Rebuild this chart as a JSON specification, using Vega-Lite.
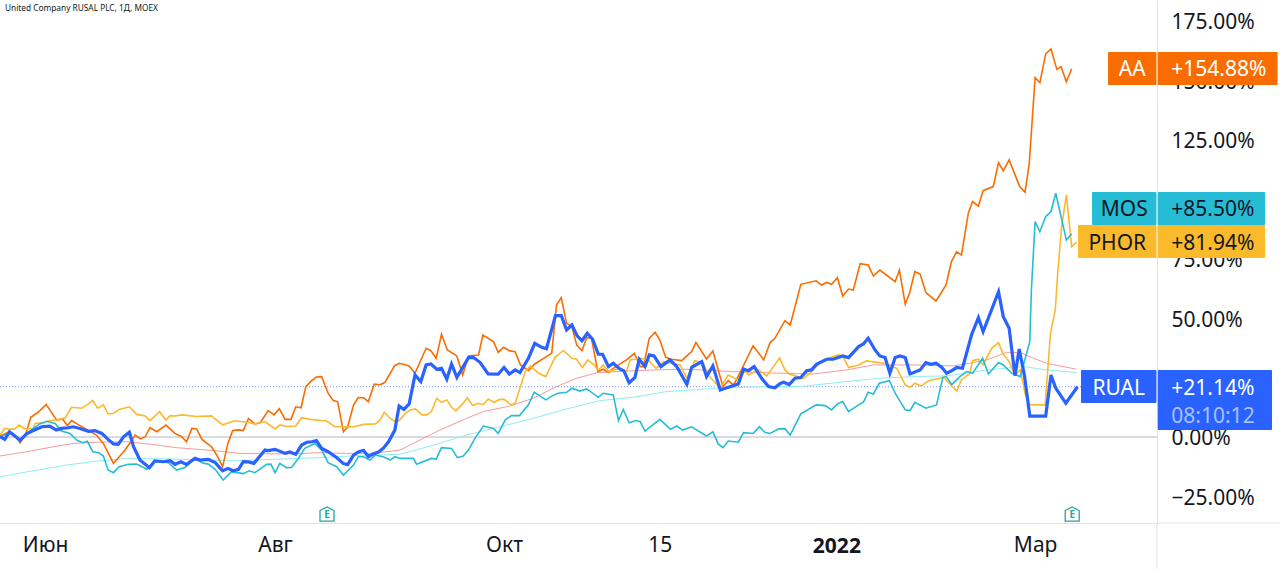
{"width":1157,"height":523,"autosize":{"type":"none"},"padding":{"left":0,"top":0,"right":123,"bottom":46},"background":"#ffffff","config":{"view":{"stroke":null}},
"data":{"values":[{"year":"2022","time":"08:10:12","name":"United Company RUSAL PLC, 1Д, MOEX","lastRual":21.14,"zero":0}]},
"transform":[{"calculate":"0","as":"start"},{"calculate":"218.3","as":"stop"},{"calculate":"241.6","as":"sideStop"},{"calculate":"-36.17","as":"bottom"},{"calculate":"218.3","as":"edge"},{"calculate":"-55.5","as":"floor"},{"calculate":"221","as":"timeX"},{"calculate":"9.4","as":"timeY"},{"calculate":"0.94","as":"titleX"},{"calculate":"180.4","as":"titleY"},{"calculate":"157.9","as":"yearX"},{"calculate":"-46.3","as":"yearY"}],
"datasets":{
"tags":[{"series":"AA","last":154.88,"tagLevel":155.0},{"series":"PHOR","last":81.94,"tagLevel":82.2},{"series":"MOS","last":85.5,"tagLevel":96.1},{"series":"RUAL","last":21.14,"tagLevel":21.2}],
"events":[{"session":61.7,"level":-32.4,"label":"E"},{"session":202.3,"level":-32.4,"label":"E"}],
"averages":[
{"series":"SMA1","session":0,"change":-8},{"series":"SMA1","session":5,"change":-6.2},{"series":"SMA1","session":10.1,"change":-4.1},{"series":"SMA1","session":13.8,"change":-2.7},{"series":"SMA1","session":18.2,"change":-2.2},{"series":"SMA1","session":23.9,"change":-2},{"series":"SMA1","session":28.3,"change":-3},{"series":"SMA1","session":33.3,"change":-4.5},{"series":"SMA1","session":40.3,"change":-5.7},{"series":"SMA1","session":45.3,"change":-6.9},{"series":"SMA1","session":50.3,"change":-7.1},{"series":"SMA1","session":55.3,"change":-7.1},{"series":"SMA1","session":60.4,"change":-6.6},{"series":"SMA1","session":65.4,"change":-6.9},{"series":"SMA1","session":70.4,"change":-6.9},{"series":"SMA1","session":75.5,"change":-5.5},{"series":"SMA1","session":79.2,"change":-1.3},{"series":"SMA1","session":83,"change":2.9},{"series":"SMA1","session":88,"change":7.8},{"series":"SMA1","session":91.2,"change":10.7},{"series":"SMA1","session":96.2,"change":13},{"series":"SMA1","session":100.6,"change":16.3},{"series":"SMA1","session":105,"change":21.2},{"series":"SMA1","session":108.8,"change":24.7},{"series":"SMA1","session":112.6,"change":27},{"series":"SMA1","session":116.4,"change":27.5},{"series":"SMA1","session":123.3,"change":28.2},{"series":"SMA1","session":129.6,"change":28.5},{"series":"SMA1","session":138.4,"change":27.5},{"series":"SMA1","session":147.2,"change":26.8},{"series":"SMA1","session":153.5,"change":26.5},{"series":"SMA1","session":159.7,"change":28.2},{"series":"SMA1","session":164.8,"change":30.3},{"series":"SMA1","session":172.3,"change":30.3},{"series":"SMA1","session":179.9,"change":29.9},{"series":"SMA1","session":183.6,"change":31.3},{"series":"SMA1","session":186.2,"change":32.4},{"series":"SMA1","session":189.9,"change":35.6},{"series":"SMA1","session":192.5,"change":35.5},{"series":"SMA1","session":195,"change":33.1},{"series":"SMA1","session":197.5,"change":31},{"series":"SMA1","session":203.1,"change":28.5},
{"series":"SMA2","session":0,"change":-16.7},{"series":"SMA2","session":6.3,"change":-14.2},{"series":"SMA2","session":12.6,"change":-11.8},{"series":"SMA2","session":18.9,"change":-10},{"series":"SMA2","session":23.9,"change":-9},{"series":"SMA2","session":31.4,"change":-9.2},{"series":"SMA2","session":44,"change":-10},{"series":"SMA2","session":60.4,"change":-8.7},{"series":"SMA2","session":69.2,"change":-7.6},{"series":"SMA2","session":75.5,"change":-7.3},{"series":"SMA2","session":81.8,"change":-3.4},{"series":"SMA2","session":88,"change":0.8},{"series":"SMA2","session":94.3,"change":4.3},{"series":"SMA2","session":100.6,"change":7.8},{"series":"SMA2","session":105.7,"change":11.1},{"series":"SMA2","session":113.2,"change":15.3},{"series":"SMA2","session":119.5,"change":16.7},{"series":"SMA2","session":125.8,"change":19.1},{"series":"SMA2","session":135.2,"change":20.5},{"series":"SMA2","session":144.7,"change":21.2},{"series":"SMA2","session":151,"change":21.2},{"series":"SMA2","session":159.7,"change":23.3},{"series":"SMA2","session":166,"change":24.7},{"series":"SMA2","session":172.3,"change":25.4},{"series":"SMA2","session":178.6,"change":25.7},{"series":"SMA2","session":186.2,"change":28.2},{"series":"SMA2","session":193.1,"change":29.6},{"series":"SMA2","session":197.5,"change":28.2},{"series":"SMA2","session":203.1,"change":27.1}
],
"thin":[
{"series":"AA","session":0,"change":0.4},{"series":"AA","session":1.8,"change":2.2},{"series":"AA","session":2.8,"change":0.8},{"series":"AA","session":3.8,"change":-2.4},{"series":"AA","session":4.9,"change":1.5},{"series":"AA","session":5.8,"change":8.3},{"series":"AA","session":7.2,"change":10.4},{"series":"AA","session":8.7,"change":13.7},{"series":"AA","session":10.7,"change":7.1},{"series":"AA","session":11.8,"change":7.6},{"series":"AA","session":12.7,"change":4.8},{"series":"AA","session":13.5,"change":6.9},{"series":"AA","session":15.1,"change":4.8},{"series":"AA","session":16.7,"change":2.7},{"series":"AA","session":18.2,"change":0.8},{"series":"AA","session":19.5,"change":-2.7},{"series":"AA","session":21.4,"change":-11.1},{"series":"AA","session":22.5,"change":-8.3},{"series":"AA","session":23.6,"change":-5.5},{"series":"AA","session":24.7,"change":-2},{"series":"AA","session":25.5,"change":0.8},{"series":"AA","session":26.5,"change":-0.8},{"series":"AA","session":27.4,"change":0.1},{"series":"AA","session":28.3,"change":3.9},{"series":"AA","session":29.6,"change":2.2},{"series":"AA","session":31.3,"change":5},{"series":"AA","session":33,"change":1.5},{"series":"AA","session":34.3,"change":0.1},{"series":"AA","session":35.2,"change":-2},{"series":"AA","session":36.2,"change":3.6},{"series":"AA","session":37.1,"change":3.4},{"series":"AA","session":38.1,"change":-1},{"series":"AA","session":39.9,"change":-4.1},{"series":"AA","session":40.9,"change":-7.6},{"series":"AA","session":42,"change":-12.5},{"series":"AA","session":43,"change":-2.7},{"series":"AA","session":43.9,"change":2.7},{"series":"AA","session":45,"change":3},{"series":"AA","session":45.9,"change":2.7},{"series":"AA","session":46.9,"change":7.8},{"series":"AA","session":48.1,"change":5.5},{"series":"AA","session":49.1,"change":6},{"series":"AA","session":50.6,"change":11.1},{"series":"AA","session":51.7,"change":9.3},{"series":"AA","session":52.7,"change":11.9},{"series":"AA","session":53.8,"change":7.4},{"series":"AA","session":54.9,"change":7.4},{"series":"AA","session":55.8,"change":12.7},{"series":"AA","session":56.8,"change":12.3},{"series":"AA","session":57.7,"change":21.2},{"series":"AA","session":58.8,"change":23.7},{"series":"AA","session":59.7,"change":25.2},{"series":"AA","session":60.7,"change":25.4},{"series":"AA","session":61.9,"change":18.4},{"series":"AA","session":62.9,"change":15.3},{"series":"AA","session":63.7,"change":14.9},{"series":"AA","session":64.8,"change":2.2},{"series":"AA","session":65.6,"change":4.3},{"series":"AA","session":66.7,"change":13.4},{"series":"AA","session":67.6,"change":16.6},{"series":"AA","session":68.6,"change":16.5},{"series":"AA","session":69.5,"change":14.9},{"series":"AA","session":70.6,"change":22.2},{"series":"AA","session":71.7,"change":22},{"series":"AA","session":72.6,"change":22.9},{"series":"AA","session":74.5,"change":30.1},{"series":"AA","session":75.4,"change":31},{"series":"AA","session":77.2,"change":29.9},{"series":"AA","session":78.3,"change":26.8},{"series":"AA","session":80.4,"change":37.3},{"series":"AA","session":81.3,"change":36.3},{"series":"AA","session":82.3,"change":33.1},{"series":"AA","session":83.3,"change":43.2},{"series":"AA","session":84.4,"change":36.6},{"series":"AA","session":86.2,"change":34.1},{"series":"AA","session":87.3,"change":26.1},{"series":"AA","session":88.4,"change":34.1},{"series":"AA","session":90.3,"change":34.5},{"series":"AA","session":91.1,"change":42.9},{"series":"AA","session":93.1,"change":40.1},{"series":"AA","session":94,"change":35.6},{"series":"AA","session":95,"change":37.7},{"series":"AA","session":96.2,"change":36.2},{"series":"AA","session":97.2,"change":35.9},{"series":"AA","session":98.2,"change":30.3},{"series":"AA","session":99.7,"change":27.9},{"series":"AA","session":100.9,"change":30.7},{"series":"AA","session":103.1,"change":33.8},{"series":"AA","session":104.1,"change":35.2},{"series":"AA","session":105,"change":55.5},{"series":"AA","session":105.9,"change":58.6},{"series":"AA","session":106.9,"change":47.8},{"series":"AA","session":107.9,"change":46.4},{"series":"AA","session":108.8,"change":38.7},{"series":"AA","session":109.8,"change":36.3},{"series":"AA","session":110.7,"change":41.8},{"series":"AA","session":111.6,"change":41.5},{"series":"AA","session":112.8,"change":27.5},{"series":"AA","session":113.8,"change":28.5},{"series":"AA","session":114.8,"change":27.1},{"series":"AA","session":115.7,"change":28.9},{"series":"AA","session":118.2,"change":32.4},{"series":"AA","session":119.7,"change":35.2},{"series":"AA","session":120.8,"change":29.6},{"series":"AA","session":121.4,"change":29.6},{"series":"AA","session":122.5,"change":41.5},{"series":"AA","session":123.6,"change":44},{"series":"AA","session":124.5,"change":40.8},{"series":"AA","session":125.6,"change":33.5},{"series":"AA","session":126.7,"change":32.7},{"series":"AA","session":128.6,"change":32.1},{"series":"AA","session":130.5,"change":35.9},{"series":"AA","session":131.3,"change":39.8},{"series":"AA","session":133.3,"change":32.8},{"series":"AA","session":134.5,"change":36.2},{"series":"AA","session":136.4,"change":21.2},{"series":"AA","session":137.4,"change":23.7},{"series":"AA","session":138.4,"change":21.9},{"series":"AA","session":139.1,"change":24.7},{"series":"AA","session":142.1,"change":38.4},{"series":"AA","session":144.1,"change":32.4},{"series":"AA","session":145.3,"change":39.7},{"series":"AA","session":146.2,"change":41.5},{"series":"AA","session":148.1,"change":48.9},{"series":"AA","session":149.1,"change":47.1},{"series":"AA","session":151.1,"change":64.2},{"series":"AA","session":154,"change":65.7},{"series":"AA","session":155,"change":63.9},{"series":"AA","session":156,"change":65},{"series":"AA","session":156.9,"change":64.2},{"series":"AA","session":158,"change":67},{"series":"AA","session":159,"change":59.3},{"series":"AA","session":160.1,"change":62.2},{"series":"AA","session":161,"change":61.8},{"series":"AA","session":162.3,"change":72.9},{"series":"AA","session":163.8,"change":72.3},{"series":"AA","session":164.8,"change":67.7},{"series":"AA","session":166,"change":70.2},{"series":"AA","session":168.9,"change":65.3},{"series":"AA","session":169.7,"change":70.2},{"series":"AA","session":170.8,"change":55.8},{"series":"AA","session":171.6,"change":60.4},{"series":"AA","session":172.6,"change":69.5},{"series":"AA","session":173.6,"change":68.5},{"series":"AA","session":174.7,"change":60.7},{"series":"AA","session":176.6,"change":57.2},{"series":"AA","session":178.5,"change":63.9},{"series":"AA","session":179.5,"change":73.7},{"series":"AA","session":180.5,"change":77.9},{"series":"AA","session":181.4,"change":76.5},{"series":"AA","session":182.7,"change":94.1},{"series":"AA","session":183.5,"change":99},{"series":"AA","session":184.6,"change":97.1},{"series":"AA","session":185.5,"change":103.6},{"series":"AA","session":187.4,"change":105.3},{"series":"AA","session":188.4,"change":115.4},{"series":"AA","session":189.3,"change":111.9},{"series":"AA","session":190.4,"change":116.5},{"series":"AA","session":192.4,"change":105.3},{"series":"AA","session":193.4,"change":102.9},{"series":"AA","session":194.2,"change":115.1},{"series":"AA","session":195.3,"change":151.1},{"series":"AA","session":196.2,"change":149},{"series":"AA","session":197.3,"change":161.1},{"series":"AA","session":198.3,"change":163.2},{"series":"AA","session":199.4,"change":154.6},{"series":"AA","session":200.2,"change":155.7},{"series":"AA","session":201.2,"change":149.4},{"series":"AA","session":202.2,"change":154.88},
{"series":"PHOR","session":0,"change":0.8},{"series":"PHOR","session":0.9,"change":3.6},{"series":"PHOR","session":1.8,"change":3.2},{"series":"PHOR","session":2.8,"change":3.4},{"series":"PHOR","session":3.6,"change":5},{"series":"PHOR","session":4.7,"change":3.4},{"series":"PHOR","session":6.3,"change":3.6},{"series":"PHOR","session":6.6,"change":5.7},{"series":"PHOR","session":8.2,"change":6},{"series":"PHOR","session":9.4,"change":6.9},{"series":"PHOR","session":10.7,"change":7.1},{"series":"PHOR","session":12.3,"change":8.1},{"series":"PHOR","session":13.5,"change":12.5},{"series":"PHOR","session":15.4,"change":12.1},{"series":"PHOR","session":16.7,"change":13.9},{"series":"PHOR","session":17.5,"change":15.4},{"series":"PHOR","session":18.4,"change":12.1},{"series":"PHOR","session":19.5,"change":13.5},{"series":"PHOR","session":20.4,"change":9.7},{"series":"PHOR","session":21.4,"change":9.9},{"series":"PHOR","session":22.5,"change":11.6},{"series":"PHOR","session":24.4,"change":12.7},{"series":"PHOR","session":25.8,"change":9.5},{"series":"PHOR","session":27.4,"change":8.8},{"series":"PHOR","session":28.3,"change":6.9},{"series":"PHOR","session":30.1,"change":10.6},{"series":"PHOR","session":31.3,"change":7.1},{"series":"PHOR","session":32.1,"change":9},{"series":"PHOR","session":33,"change":8.8},{"series":"PHOR","session":34.3,"change":9.3},{"series":"PHOR","session":37.1,"change":8.6},{"series":"PHOR","session":39.9,"change":8.9},{"series":"PHOR","session":42,"change":5.1},{"series":"PHOR","session":44.3,"change":6.8},{"series":"PHOR","session":46.9,"change":6.1},{"series":"PHOR","session":48.1,"change":5.5},{"series":"PHOR","session":50,"change":6.5},{"series":"PHOR","session":51.9,"change":3.4},{"series":"PHOR","session":52.8,"change":5.1},{"series":"PHOR","session":54.1,"change":4.4},{"series":"PHOR","session":55.8,"change":4.6},{"series":"PHOR","session":56.9,"change":8.1},{"series":"PHOR","session":58.5,"change":7.4},{"series":"PHOR","session":61.6,"change":6.7},{"series":"PHOR","session":63.2,"change":4.3},{"series":"PHOR","session":64.8,"change":4.3},{"series":"PHOR","session":66.7,"change":4.3},{"series":"PHOR","session":68.6,"change":5.3},{"series":"PHOR","session":70.8,"change":5.5},{"series":"PHOR","session":71.7,"change":7.1},{"series":"PHOR","session":72.5,"change":10.4},{"series":"PHOR","session":73.6,"change":7.9},{"series":"PHOR","session":74.8,"change":6.1},{"series":"PHOR","session":75.5,"change":7.4},{"series":"PHOR","session":76.4,"change":9.7},{"series":"PHOR","session":77.4,"change":11.4},{"series":"PHOR","session":78.4,"change":11.8},{"series":"PHOR","session":79.6,"change":9.3},{"series":"PHOR","session":80.5,"change":9.3},{"series":"PHOR","session":81.4,"change":10.7},{"series":"PHOR","session":82.4,"change":16.3},{"series":"PHOR","session":83.3,"change":14.6},{"series":"PHOR","session":84.3,"change":15.6},{"series":"PHOR","session":85.2,"change":12.5},{"series":"PHOR","session":86,"change":11.1},{"series":"PHOR","session":87.1,"change":13.5},{"series":"PHOR","session":88.2,"change":16.5},{"series":"PHOR","session":89.2,"change":13.2},{"series":"PHOR","session":90.2,"change":14.2},{"series":"PHOR","session":91.2,"change":13.7},{"series":"PHOR","session":92.1,"change":16},{"series":"PHOR","session":93.2,"change":14.6},{"series":"PHOR","session":94.3,"change":15.8},{"series":"PHOR","session":95.1,"change":15.8},{"series":"PHOR","session":96.5,"change":13.5},{"series":"PHOR","session":97.2,"change":14.2},{"series":"PHOR","session":99.1,"change":27.5},{"series":"PHOR","session":100.1,"change":29.9},{"series":"PHOR","session":101.6,"change":26.8},{"series":"PHOR","session":103,"change":25.4},{"series":"PHOR","session":104.7,"change":33.5},{"series":"PHOR","session":106.3,"change":36.4},{"series":"PHOR","session":107.9,"change":33.1},{"series":"PHOR","session":108.8,"change":32.7},{"series":"PHOR","session":109.9,"change":29.2},{"series":"PHOR","session":110.9,"change":32.4},{"series":"PHOR","session":112.1,"change":30.3},{"series":"PHOR","session":112.9,"change":28.2},{"series":"PHOR","session":113.8,"change":30.3},{"series":"PHOR","session":114.8,"change":27.5},{"series":"PHOR","session":117,"change":28.9},{"series":"PHOR","session":118.2,"change":27.5},{"series":"PHOR","session":118.9,"change":32.4},{"series":"PHOR","session":120.8,"change":33.1},{"series":"PHOR","session":122.3,"change":32.4},{"series":"PHOR","session":123.8,"change":28.9},{"series":"PHOR","session":125.2,"change":31.7},{"series":"PHOR","session":128.3,"change":30.3},{"series":"PHOR","session":129.6,"change":24.7},{"series":"PHOR","session":131.1,"change":32.1},{"series":"PHOR","session":132.7,"change":31},{"series":"PHOR","session":133.6,"change":26.1},{"series":"PHOR","session":135.9,"change":20.5},{"series":"PHOR","session":137.4,"change":26.1},{"series":"PHOR","session":139.3,"change":24},{"series":"PHOR","session":140.6,"change":28.2},{"series":"PHOR","session":141.2,"change":26.1},{"series":"PHOR","session":143.1,"change":28.2},{"series":"PHOR","session":144.7,"change":25.7},{"series":"PHOR","session":147.1,"change":33.3},{"series":"PHOR","session":148.1,"change":28.2},{"series":"PHOR","session":149,"change":26.4},{"series":"PHOR","session":151.6,"change":24.7},{"series":"PHOR","session":152.8,"change":26.8},{"series":"PHOR","session":155.3,"change":32.4},{"series":"PHOR","session":158.2,"change":34.5},{"series":"PHOR","session":159.1,"change":33.8},{"series":"PHOR","session":160.1,"change":29.2},{"series":"PHOR","session":162,"change":30.3},{"series":"PHOR","session":163.5,"change":32},{"series":"PHOR","session":166.7,"change":31},{"series":"PHOR","session":169.2,"change":28.9},{"series":"PHOR","session":170.8,"change":21.9},{"series":"PHOR","session":171.7,"change":20.9},{"series":"PHOR","session":172.6,"change":22.6},{"series":"PHOR","session":173.8,"change":21.4},{"series":"PHOR","session":175.2,"change":23.7},{"series":"PHOR","session":178,"change":25.1},{"series":"PHOR","session":180.5,"change":19.3},{"series":"PHOR","session":181.4,"change":24},{"series":"PHOR","session":183,"change":26.8},{"series":"PHOR","session":183.5,"change":32.1},{"series":"PHOR","session":184.6,"change":32.7},{"series":"PHOR","session":185.5,"change":30.3},{"series":"PHOR","session":187.1,"change":37.3},{"series":"PHOR","session":188.4,"change":39.7},{"series":"PHOR","session":189.2,"change":35.2},{"series":"PHOR","session":190.4,"change":31.7},{"series":"PHOR","session":191.5,"change":26.1},{"series":"PHOR","session":192.5,"change":28.2},{"series":"PHOR","session":193.4,"change":18.4},{"series":"PHOR","session":194.3,"change":13.5},{"series":"PHOR","session":197.2,"change":13.5},{"series":"PHOR","session":198.2,"change":43.6},{"series":"PHOR","session":199.1,"change":53.4},{"series":"PHOR","session":199.6,"change":70},{"series":"PHOR","session":200.3,"change":88.4},{"series":"PHOR","session":201.2,"change":101.8},{"series":"PHOR","session":202.2,"change":80},{"series":"PHOR","session":203.1,"change":81.94},
{"series":"MOS","session":0,"change":0.1},{"series":"MOS","session":1.9,"change":1.8},{"series":"MOS","session":3.8,"change":-1},{"series":"MOS","session":5,"change":1.3},{"series":"MOS","session":6.3,"change":3.6},{"series":"MOS","session":7.5,"change":5.5},{"series":"MOS","session":8.8,"change":6.6},{"series":"MOS","session":10.4,"change":5.7},{"series":"MOS","session":11.6,"change":2.5},{"series":"MOS","session":13.2,"change":1.5},{"series":"MOS","session":14.6,"change":-1.5},{"series":"MOS","session":15.7,"change":-2.4},{"series":"MOS","session":16.5,"change":-1.8},{"series":"MOS","session":17.5,"change":-6.2},{"series":"MOS","session":18.6,"change":-6.6},{"series":"MOS","session":19.5,"change":-8},{"series":"MOS","session":20.4,"change":-13.9},{"series":"MOS","session":21.4,"change":-15},{"series":"MOS","session":22.5,"change":-12.5},{"series":"MOS","session":24.2,"change":-11.5},{"series":"MOS","session":25.8,"change":-11.4},{"series":"MOS","session":27.7,"change":-13.6},{"series":"MOS","session":29.2,"change":-10.1},{"series":"MOS","session":31.8,"change":-10.8},{"series":"MOS","session":33.3,"change":-13.9},{"series":"MOS","session":34.9,"change":-12.8},{"series":"MOS","session":36.8,"change":-9},{"series":"MOS","session":38.1,"change":-10.8},{"series":"MOS","session":39.3,"change":-11.4},{"series":"MOS","session":40.6,"change":-13.6},{"series":"MOS","session":42.1,"change":-18.1},{"series":"MOS","session":43.7,"change":-14.6},{"series":"MOS","session":45.9,"change":-15.4},{"series":"MOS","session":47,"change":-14.2},{"series":"MOS","session":48.1,"change":-15},{"series":"MOS","session":50.3,"change":-11.5},{"series":"MOS","session":51.1,"change":-11.4},{"series":"MOS","session":51.9,"change":-15},{"series":"MOS","session":52.8,"change":-11.1},{"series":"MOS","session":54,"change":-12.9},{"series":"MOS","session":55,"change":-12.8},{"series":"MOS","session":56.3,"change":-9},{"series":"MOS","session":57.5,"change":-4.8},{"series":"MOS","session":59.4,"change":-2.7},{"series":"MOS","session":60.7,"change":-5.5},{"series":"MOS","session":61.9,"change":-10.8},{"series":"MOS","session":63.5,"change":-12.5},{"series":"MOS","session":64.8,"change":-16},{"series":"MOS","session":66.7,"change":-11.8},{"series":"MOS","session":67.6,"change":-8.3},{"series":"MOS","session":68.6,"change":-8.3},{"series":"MOS","session":69.8,"change":-9.7},{"series":"MOS","session":70.8,"change":-7.6},{"series":"MOS","session":72.3,"change":-8.3},{"series":"MOS","session":73.6,"change":-9.7},{"series":"MOS","session":74.5,"change":-8.3},{"series":"MOS","session":75.5,"change":-9},{"series":"MOS","session":78,"change":-9},{"series":"MOS","session":78.6,"change":-11.5},{"series":"MOS","session":81.4,"change":-9},{"series":"MOS","session":82.3,"change":-9.3},{"series":"MOS","session":83.3,"change":-4.5},{"series":"MOS","session":85.2,"change":-4.8},{"series":"MOS","session":86.3,"change":-8.7},{"series":"MOS","session":87.4,"change":-8},{"series":"MOS","session":88.4,"change":-5.5},{"series":"MOS","session":89.6,"change":-0.6},{"series":"MOS","session":91.2,"change":4.6},{"series":"MOS","session":93.1,"change":3.6},{"series":"MOS","session":94,"change":1.5},{"series":"MOS","session":95.3,"change":7.1},{"series":"MOS","session":96.5,"change":9},{"series":"MOS","session":98,"change":9},{"series":"MOS","session":99.7,"change":13.5},{"series":"MOS","session":100.8,"change":18.8},{"series":"MOS","session":103,"change":15.6},{"series":"MOS","session":104.1,"change":17.2},{"series":"MOS","session":105.3,"change":18.4},{"series":"MOS","session":106.9,"change":18.8},{"series":"MOS","session":107.9,"change":20.5},{"series":"MOS","session":109.4,"change":19.3},{"series":"MOS","session":110.7,"change":20.2},{"series":"MOS","session":112.9,"change":16.7},{"series":"MOS","session":113.8,"change":18.4},{"series":"MOS","session":115.7,"change":17.7},{"series":"MOS","session":116.7,"change":6.9},{"series":"MOS","session":117.6,"change":11.6},{"series":"MOS","session":118.7,"change":6},{"series":"MOS","session":120,"change":6.9},{"series":"MOS","session":120.8,"change":6.4},{"series":"MOS","session":121.7,"change":2.5},{"series":"MOS","session":124.5,"change":7.4},{"series":"MOS","session":126.5,"change":3.2},{"series":"MOS","session":127.7,"change":4.6},{"series":"MOS","session":128.8,"change":2.9},{"series":"MOS","session":130.5,"change":4.3},{"series":"MOS","session":133.3,"change":0.4},{"series":"MOS","session":134.5,"change":2.2},{"series":"MOS","session":135.5,"change":-2.9},{"series":"MOS","session":136.4,"change":-4.5},{"series":"MOS","session":137.4,"change":-1.7},{"series":"MOS","session":139.3,"change":-2.2},{"series":"MOS","session":140.3,"change":1.8},{"series":"MOS","session":142.1,"change":1.5},{"series":"MOS","session":143.3,"change":4.3},{"series":"MOS","session":144.3,"change":2},{"series":"MOS","session":145.3,"change":1.5},{"series":"MOS","session":146.9,"change":3.4},{"series":"MOS","session":148.1,"change":3.5},{"series":"MOS","session":149.1,"change":0.8},{"series":"MOS","session":151.1,"change":9.7},{"series":"MOS","session":154,"change":13.5},{"series":"MOS","session":155.7,"change":13.2},{"series":"MOS","session":156.9,"change":11.4},{"series":"MOS","session":158,"change":13.9},{"series":"MOS","session":159,"change":14.9},{"series":"MOS","session":160.1,"change":10.7},{"series":"MOS","session":162,"change":13.5},{"series":"MOS","session":162.9,"change":14.6},{"series":"MOS","session":163.8,"change":18.8},{"series":"MOS","session":164.8,"change":18.1},{"series":"MOS","session":165.9,"change":22.6},{"series":"MOS","session":167.8,"change":23.7},{"series":"MOS","session":168.9,"change":18.4},{"series":"MOS","session":170.8,"change":11.4},{"series":"MOS","session":171.7,"change":11.1},{"series":"MOS","session":172.6,"change":14.6},{"series":"MOS","session":174.7,"change":12.1},{"series":"MOS","session":176.7,"change":13.5},{"series":"MOS","session":177.9,"change":25.1},{"series":"MOS","session":178.5,"change":25.4},{"series":"MOS","session":179.6,"change":22.1},{"series":"MOS","session":181.1,"change":25.4},{"series":"MOS","session":182.4,"change":27.5},{"series":"MOS","session":183.5,"change":26.8},{"series":"MOS","session":185.4,"change":33.1},{"series":"MOS","session":186.5,"change":26.5},{"series":"MOS","session":188.4,"change":31.3},{"series":"MOS","session":189.3,"change":30.3},{"series":"MOS","session":190.9,"change":26.8},{"series":"MOS","session":192.5,"change":25.4},{"series":"MOS","session":194.3,"change":40.1},{"series":"MOS","session":194.6,"change":61.8},{"series":"MOS","session":195.3,"change":90.6},{"series":"MOS","session":196.2,"change":86.3},{"series":"MOS","session":197.3,"change":92.7},{"series":"MOS","session":198.3,"change":94.8},{"series":"MOS","session":199.2,"change":102.5},{"series":"MOS","session":201.2,"change":82.8},{"series":"MOS","session":202.2,"change":85.5}
],
"main":[
{"series":"RUAL","session":0,"change":0.1},{"series":"RUAL","session":0.9,"change":-1},{"series":"RUAL","session":1.8,"change":2.2},{"series":"RUAL","session":2.8,"change":0.4},{"series":"RUAL","session":3.8,"change":-1.4},{"series":"RUAL","session":5,"change":1.3},{"series":"RUAL","session":6.3,"change":2.7},{"series":"RUAL","session":7.9,"change":4.3},{"series":"RUAL","session":9.4,"change":4.6},{"series":"RUAL","session":10.6,"change":2.9},{"series":"RUAL","session":11.6,"change":3.6},{"series":"RUAL","session":12.9,"change":3.9},{"series":"RUAL","session":13.8,"change":4.3},{"series":"RUAL","session":15.1,"change":3.6},{"series":"RUAL","session":16.7,"change":2.4},{"series":"RUAL","session":17.9,"change":2.7},{"series":"RUAL","session":19.2,"change":1.5},{"series":"RUAL","session":20.4,"change":-1},{"series":"RUAL","session":21.4,"change":-2.9},{"series":"RUAL","session":22.3,"change":-3.1},{"series":"RUAL","session":23.3,"change":0.1},{"series":"RUAL","session":24.4,"change":2},{"series":"RUAL","session":25.2,"change":-4.1},{"series":"RUAL","session":26.4,"change":-9.7},{"series":"RUAL","session":28.2,"change":-12.9},{"series":"RUAL","session":29.2,"change":-10.1},{"series":"RUAL","session":30.8,"change":-10.4},{"series":"RUAL","session":32.1,"change":-10},{"series":"RUAL","session":33,"change":-11.5},{"series":"RUAL","session":34.1,"change":-10.4},{"series":"RUAL","session":35.2,"change":-11.5},{"series":"RUAL","session":36.8,"change":-9},{"series":"RUAL","session":37.7,"change":-9.7},{"series":"RUAL","session":39.3,"change":-9.4},{"series":"RUAL","session":40.6,"change":-10.8},{"series":"RUAL","session":42,"change":-14.2},{"series":"RUAL","session":43,"change":-13.2},{"series":"RUAL","session":44,"change":-14.2},{"series":"RUAL","session":45,"change":-13.6},{"series":"RUAL","session":45.9,"change":-10.4},{"series":"RUAL","session":46.9,"change":-10.5},{"series":"RUAL","session":47.9,"change":-11.1},{"series":"RUAL","session":50,"change":-5.5},{"series":"RUAL","session":50.6,"change":-5.7},{"series":"RUAL","session":51.9,"change":-5.2},{"series":"RUAL","session":53.8,"change":-6.9},{"series":"RUAL","session":54.7,"change":-6.3},{"series":"RUAL","session":55.8,"change":-7.3},{"series":"RUAL","session":56.9,"change":-3.4},{"series":"RUAL","session":57.9,"change":-2.2},{"series":"RUAL","session":58.8,"change":-2},{"series":"RUAL","session":59.7,"change":-1.5},{"series":"RUAL","session":60.7,"change":-4.8},{"series":"RUAL","session":61.9,"change":-6.2},{"series":"RUAL","session":63.5,"change":-8.6},{"series":"RUAL","session":64.8,"change":-11.2},{"series":"RUAL","session":65.6,"change":-11.6},{"series":"RUAL","session":66.7,"change":-7.6},{"series":"RUAL","session":67.6,"change":-6.3},{"series":"RUAL","session":68.6,"change":-5.6},{"series":"RUAL","session":69.5,"change":-8.3},{"series":"RUAL","session":70.4,"change":-7.1},{"series":"RUAL","session":71.4,"change":-6.3},{"series":"RUAL","session":72.3,"change":-4.8},{"series":"RUAL","session":73.3,"change":-2},{"series":"RUAL","session":74.5,"change":2.9},{"series":"RUAL","session":75.3,"change":13},{"series":"RUAL","session":76.2,"change":11.6},{"series":"RUAL","session":77.2,"change":13.9},{"series":"RUAL","session":78.3,"change":26.1},{"series":"RUAL","session":79.4,"change":23.3},{"series":"RUAL","session":80.4,"change":30.3},{"series":"RUAL","session":81.3,"change":30.7},{"series":"RUAL","session":82.4,"change":28.5},{"series":"RUAL","session":83.3,"change":28.9},{"series":"RUAL","session":84.3,"change":24.3},{"series":"RUAL","session":85.2,"change":30.7},{"series":"RUAL","session":86.2,"change":25.1},{"series":"RUAL","session":87.4,"change":29.6},{"series":"RUAL","session":88.4,"change":33.4},{"series":"RUAL","session":89.3,"change":33.5},{"series":"RUAL","session":90.6,"change":31.3},{"series":"RUAL","session":92.1,"change":26.5},{"series":"RUAL","session":94,"change":26.4},{"series":"RUAL","session":95.1,"change":29.2},{"series":"RUAL","session":96.1,"change":26.5},{"series":"RUAL","session":97.2,"change":28.2},{"series":"RUAL","session":98.1,"change":27.1},{"series":"RUAL","session":99.7,"change":33.1},{"series":"RUAL","session":100.9,"change":39.4},{"series":"RUAL","session":102.2,"change":37.7},{"series":"RUAL","session":103.1,"change":37.1},{"series":"RUAL","session":104.8,"change":51},{"series":"RUAL","session":105.9,"change":51},{"series":"RUAL","session":106.9,"change":45},{"series":"RUAL","session":107.9,"change":47.1},{"series":"RUAL","session":108.9,"change":42.5},{"series":"RUAL","session":109.8,"change":40.5},{"series":"RUAL","session":110.8,"change":43.6},{"series":"RUAL","session":111.8,"change":41.2},{"series":"RUAL","session":112.9,"change":34.8},{"series":"RUAL","session":113.7,"change":34.8},{"series":"RUAL","session":114.8,"change":29.6},{"series":"RUAL","session":115.7,"change":31},{"series":"RUAL","session":117,"change":28.5},{"series":"RUAL","session":117.7,"change":27.9},{"series":"RUAL","session":118.7,"change":22.8},{"series":"RUAL","session":119.8,"change":25.1},{"series":"RUAL","session":120.6,"change":32.7},{"series":"RUAL","session":121.7,"change":29.6},{"series":"RUAL","session":122.5,"change":34.5},{"series":"RUAL","session":123.4,"change":34.1},{"series":"RUAL","session":124.7,"change":29.6},{"series":"RUAL","session":126.4,"change":32.4},{"series":"RUAL","session":127.7,"change":29.6},{"series":"RUAL","session":129.6,"change":22.1},{"series":"RUAL","session":130.5,"change":29.3},{"series":"RUAL","session":132.4,"change":31.7},{"series":"RUAL","session":133.3,"change":25.4},{"series":"RUAL","session":134.5,"change":29.9},{"series":"RUAL","session":135.9,"change":19.8},{"series":"RUAL","session":137.4,"change":20.9},{"series":"RUAL","session":139.3,"change":22.3},{"series":"RUAL","session":140.3,"change":28.6},{"series":"RUAL","session":141.2,"change":27.9},{"series":"RUAL","session":142.3,"change":29.6},{"series":"RUAL","session":143.7,"change":24.7},{"series":"RUAL","session":145,"change":21.2},{"series":"RUAL","session":146.2,"change":20.7},{"series":"RUAL","session":147.2,"change":22.5},{"series":"RUAL","session":147.9,"change":23},{"series":"RUAL","session":148.9,"change":22},{"series":"RUAL","session":150,"change":24.7},{"series":"RUAL","session":151.1,"change":25},{"series":"RUAL","session":152.2,"change":27.9},{"series":"RUAL","session":153.1,"change":28.2},{"series":"RUAL","session":154.1,"change":30.7},{"series":"RUAL","session":156,"change":32.7},{"series":"RUAL","session":157.2,"change":32.7},{"series":"RUAL","session":159,"change":34.1},{"series":"RUAL","session":160.1,"change":33.4},{"series":"RUAL","session":162,"change":38},{"series":"RUAL","session":162.9,"change":39.1},{"series":"RUAL","session":163.8,"change":41.5},{"series":"RUAL","session":165.1,"change":36.6},{"series":"RUAL","session":166,"change":34.1},{"series":"RUAL","session":167,"change":33.4},{"series":"RUAL","session":167.9,"change":26.8},{"series":"RUAL","session":168.9,"change":33.4},{"series":"RUAL","session":169.8,"change":34.1},{"series":"RUAL","session":170.8,"change":33.4},{"series":"RUAL","session":171.7,"change":26.5},{"series":"RUAL","session":173.6,"change":28.2},{"series":"RUAL","session":174.7,"change":31.3},{"series":"RUAL","session":175.6,"change":30.6},{"series":"RUAL","session":176.6,"change":31},{"series":"RUAL","session":177.7,"change":29.3},{"series":"RUAL","session":178.6,"change":26.8},{"series":"RUAL","session":179.6,"change":27.9},{"series":"RUAL","session":180.5,"change":29.3},{"series":"RUAL","session":181.6,"change":28.9},{"series":"RUAL","session":183.3,"change":42.9},{"series":"RUAL","session":184.6,"change":50.2},{"series":"RUAL","session":185.5,"change":44.3},{"series":"RUAL","session":188.4,"change":61.1},{"series":"RUAL","session":189.3,"change":50.6},{"series":"RUAL","session":190.4,"change":45.7},{"series":"RUAL","session":191.5,"change":25.8},{"series":"RUAL","session":192.3,"change":37},{"series":"RUAL","session":193.3,"change":25.7},{"series":"RUAL","session":194.3,"change":8.8},{"series":"RUAL","session":197.3,"change":8.8},{"series":"RUAL","session":198.3,"change":26.1},{"series":"RUAL","session":199.2,"change":20.5},{"series":"RUAL","session":201.1,"change":14.2},{"series":"RUAL","session":203.3,"change":21.14}
]},
"layer":[
{"mark":{"type":"rule","stroke":"#d9dbe2","strokeWidth":2},"encoding":{"y":{"field":"zero","type":"quantitative","title":null,"scale":{"domain":[-36.17,183.77],"nice":false,"zero":false},"axis":{"orient":"right","values":[-25,0,25,50,75,100,125,150,175],"labelExpr":"format(datum.value,'.2f')+'%'","grid":false,"ticks":false,"domain":true,"domainColor":"#e0e3eb","domainWidth":1,"labelFont":"Noto Sans","labelFontSize":21,"labelColor":"#131722","labelPadding":14,"labelOffset":2,"labelAlign":"left","labelBaseline":"middle","title":null,"labelOverlap":false,"labelBound":false,"labelFlush":false}},"x":{"field":"start","type":"quantitative","title":null,"scale":{"domain":[0,218.3],"nice":false,"zero":false},"axis":{"orient":"bottom","values":[8.5,51.9,95.1,124.5,157.9,195.3],"labelExpr":"datum.value==8.5?'Июн':datum.value==51.9?'Авг':datum.value==95.1?'Окт':datum.value==124.5?'15':datum.value==157.9?'':'Мар'","grid":false,"ticks":false,"domain":true,"domainColor":"#e0e3eb","domainWidth":1,"labelFont":"Noto Sans","labelFontSize":21,"labelColor":"#131722","labelPadding":11,"labelAlign":"center","labelBaseline":"top","title":null,"labelOverlap":false,"labelBound":false,"labelFlush":false}},"x2":{"field":"stop"}}},
{"mark":{"type":"rule","stroke":"#2962ff","strokeWidth":1,"strokeDash":[1,2],"opacity":0.7},"encoding":{"y":{"field":"lastRual","type":"quantitative"},"x":{"field":"start","type":"quantitative"},"x2":{"field":"stop"}}},
{"mark":{"type":"rule","stroke":"#e0e3eb","strokeWidth":1},"encoding":{"y":{"field":"bottom","type":"quantitative"},"x":{"field":"edge","type":"quantitative"},"x2":{"field":"sideStop"}}},
{"mark":{"type":"rule","stroke":"#e0e3eb","strokeWidth":1},"encoding":{"x":{"field":"edge","type":"quantitative"},"y":{"field":"bottom","type":"quantitative"},"y2":{"field":"floor"}}},
{"data":{"name":"averages"},"mark":{"type":"line","strokeWidth":1,"interpolate":"linear"},"encoding":{"x":{"field":"session","type":"quantitative"},"y":{"field":"change","type":"quantitative"},"color":{"field":"series","type":"nominal","legend":null,"scale":{"domain":["AA","MOS","PHOR","RUAL","SMA1","SMA2"],"range":["#f96d00","#26bcd6","#fbb92c","#2962ff","#f59a9a","#8feef2"]}}}},
{"data":{"name":"thin"},"mark":{"type":"line","strokeWidth":1.6},"encoding":{"x":{"field":"session","type":"quantitative"},"y":{"field":"change","type":"quantitative"},"color":{"field":"series","type":"nominal","legend":null}}},
{"data":{"name":"main"},"mark":{"type":"line","strokeWidth":3.2},"encoding":{"x":{"field":"session","type":"quantitative"},"y":{"field":"change","type":"quantitative"},"color":{"field":"series","type":"nominal","legend":null}}},
{"data":{"name":"events"},"mark":{"type":"point","filled":true,"fill":"#ffffff","stroke":"#26a69a","strokeWidth":1.3,"opacity":1,"shape":"M0,-1 L1,-0.5 L1,1 L-1,1 L-1,-0.5 Z","size":196},"encoding":{"x":{"field":"session","type":"quantitative"},"y":{"field":"level","type":"quantitative"}}},
{"data":{"name":"events"},"mark":{"type":"text","color":"#26a69a","font":"Noto Sans","fontSize":10,"fontWeight":"bold","align":"center","baseline":"middle","dy":1},"encoding":{"x":{"field":"session","type":"quantitative"},"y":{"field":"level","type":"quantitative"},"text":{"field":"label","type":"nominal"}}},
{"data":{"name":"tags"},"transform":[{"calculate":"datum.tagLevel+6.94","as":"tagTop"},{"calculate":"datum.tagLevel-6.94","as":"tagBottom"},{"calculate":"{AA:209.06,MOS:206.04,PHOR:203.4,RUAL:203.96}[datum.series]","as":"tagStart"},{"calculate":"218.2","as":"tagStop"}],"mark":{"type":"rect","cornerRadius":1},"encoding":{"x":{"field":"tagStart","type":"quantitative"},"x2":{"field":"tagStop"},"y":{"field":"tagTop","type":"quantitative"},"y2":{"field":"tagBottom"},"color":{"field":"series","type":"nominal","legend":null}}},
{"data":{"name":"tags"},"transform":[{"calculate":"datum.tagLevel+6.94","as":"tagTop"},{"calculate":"datum.series=='RUAL'?2.9:datum.tagLevel-6.94","as":"tagBottom"},{"calculate":"{AA:241.05,MOS:238.7,PHOR:238.7,RUAL:240}[datum.series]","as":"tagEnd"},{"calculate":"218.45","as":"tagBegin"}],"mark":{"type":"rect","cornerRadius":1},"encoding":{"x":{"field":"tagBegin","type":"quantitative"},"x2":{"field":"tagEnd"},"y":{"field":"tagTop","type":"quantitative"},"y2":{"field":"tagBottom"},"color":{"field":"series","type":"nominal","legend":null}}},
{"data":{"name":"tags"},"transform":[{"calculate":"({AA:209.06,MOS:206.04,PHOR:203.4,RUAL:203.96}[datum.series]+218.2)/2","as":"tagMiddle"}],"mark":{"type":"text","font":"Noto Sans","fontSize":21,"align":"center","baseline":"middle","dy":2},"encoding":{"x":{"field":"tagMiddle","type":"quantitative"},"y":{"field":"tagLevel","type":"quantitative"},"text":{"field":"series","type":"nominal"},"color":{"condition":{"test":"datum.series=='AA'||datum.series=='RUAL'","value":"#ffffff"},"value":"#131722"}}},
{"data":{"name":"tags"},"transform":[{"calculate":"'+'+format(datum.last,'.2f')+'%'","as":"lastText"},{"calculate":"221","as":"textX"}],"mark":{"type":"text","font":"Noto Sans","fontSize":21,"align":"left","baseline":"middle","dy":2},"encoding":{"x":{"field":"textX","type":"quantitative"},"y":{"field":"tagLevel","type":"quantitative"},"text":{"field":"lastText","type":"nominal"},"color":{"condition":{"test":"datum.series=='AA'||datum.series=='RUAL'","value":"#ffffff"},"value":"#131722"}}},
{"mark":{"type":"text","font":"Noto Sans","fontSize":21,"align":"left","baseline":"middle","color":"#a9c1fb","dy":2},"encoding":{"x":{"field":"timeX","type":"quantitative"},"y":{"field":"timeY","type":"quantitative"},"text":{"field":"time","type":"nominal"}}},
{"mark":{"type":"text","font":"Noto Sans","fontSize":21,"fontWeight":"bold","align":"center","baseline":"middle","color":"#131722"},"encoding":{"x":{"field":"yearX","type":"quantitative"},"y":{"field":"yearY","type":"quantitative"},"text":{"field":"year","type":"nominal"}}},
{"mark":{"type":"text","font":"Noto Sans","fontSize":8.3,"align":"left","baseline":"middle","color":"#131722","dy":1},"encoding":{"x":{"field":"titleX","type":"quantitative"},"y":{"field":"titleY","type":"quantitative"},"text":{"field":"name","type":"nominal"}}}
]}
